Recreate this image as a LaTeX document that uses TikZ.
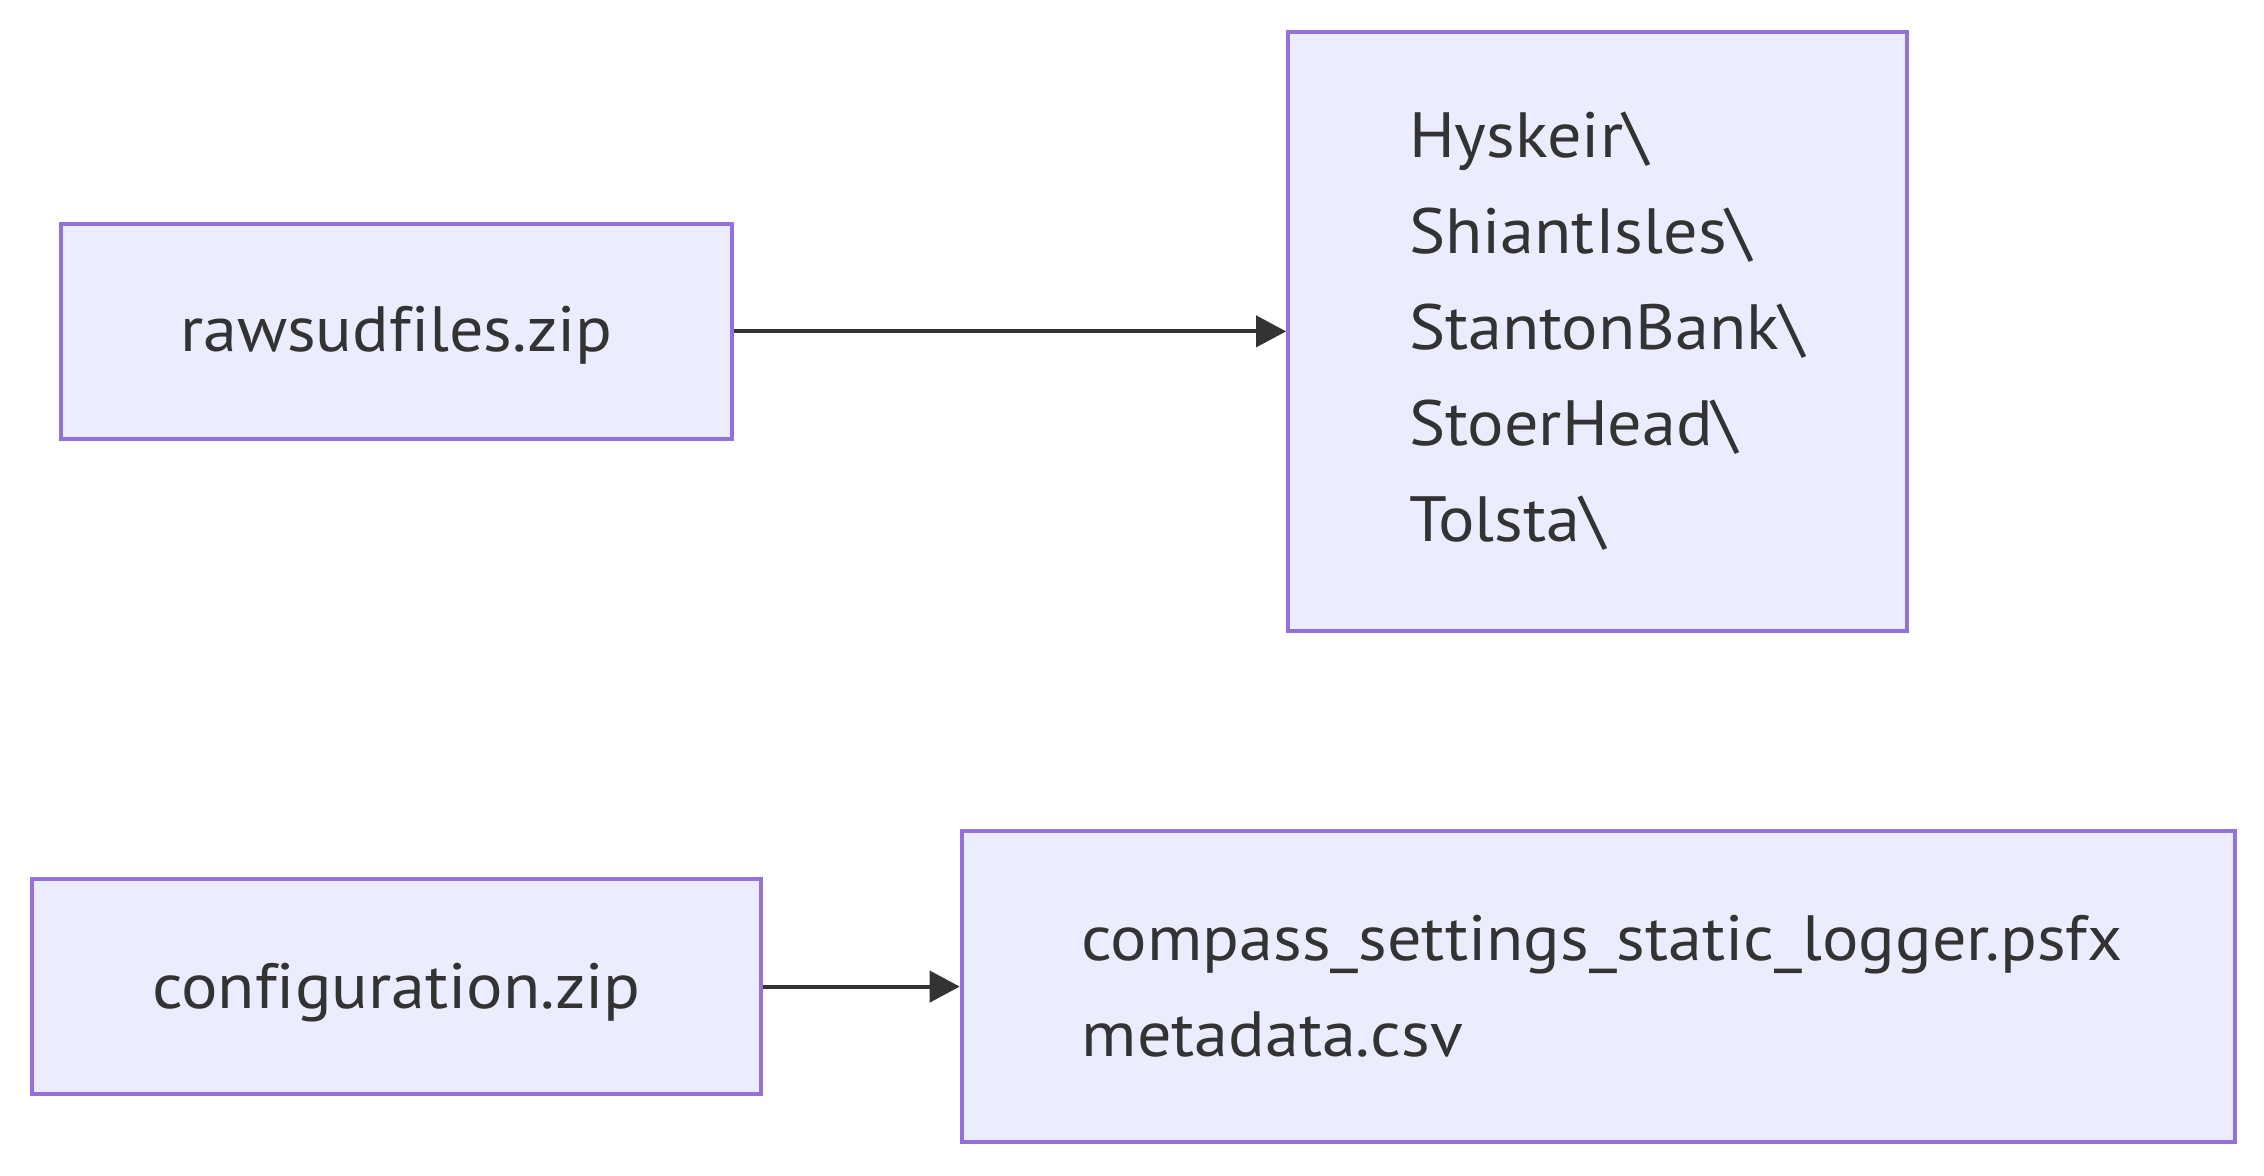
\documentclass[tikz,border=0pt]{standalone}
\usepackage{fontspec}
\setmainfont{PT Sans}[FakeStretch=1.065, Ligatures=NoCommon]
\usetikzlibrary{arrows.meta}
\definecolor{boxfill}{HTML}{ECECFF}
\definecolor{boxline}{HTML}{9370DB}
\definecolor{ink}{HTML}{333333}
\begin{document}
\begin{tikzpicture}[x=1pt,y=1pt,
  box/.style={draw=boxline, fill=boxfill, line width=2pt, text=ink,
    font=\fontsize{32}{48}\selectfont, inner sep=0pt, minimum height=#1},
  link/.style={draw=ink, line width=2pt, -{Triangle[length=15pt,width=15.5pt]}}]
\useasboundingbox (0,0) rectangle (1132,588);
\node[box=107.6pt, minimum width=335.7pt, text height=25pt, text depth=5pt] (raw) at (198.2,422.3) {rawsudfiles.zip};
\node[box=299.6pt, text width=188.5pt, align=left, inner xsep=60.5pt] (sites) at (798.8,422.3)
  {Hyskeir\textbackslash\\ShiantIsles\textbackslash\\StantonBank\textbackslash\\StoerHead\textbackslash\\Tolsta\textbackslash};
\node[box=107.5pt, minimum width=364.6pt, text height=26pt, text depth=4pt] (conf) at (198.2,94.7) {configuration.zip};
\node[box=155.1pt, text width=516.7pt, align=left, inner xsep=60pt] (files) at (799.2,94.7)
  {compass\_settings\_static\_logger.psfx\\metadata.csv};
\draw[link] (raw.east) -- (sites.west);
\draw[link] (conf.east) -- (files.west);
\end{tikzpicture}
\end{document}
